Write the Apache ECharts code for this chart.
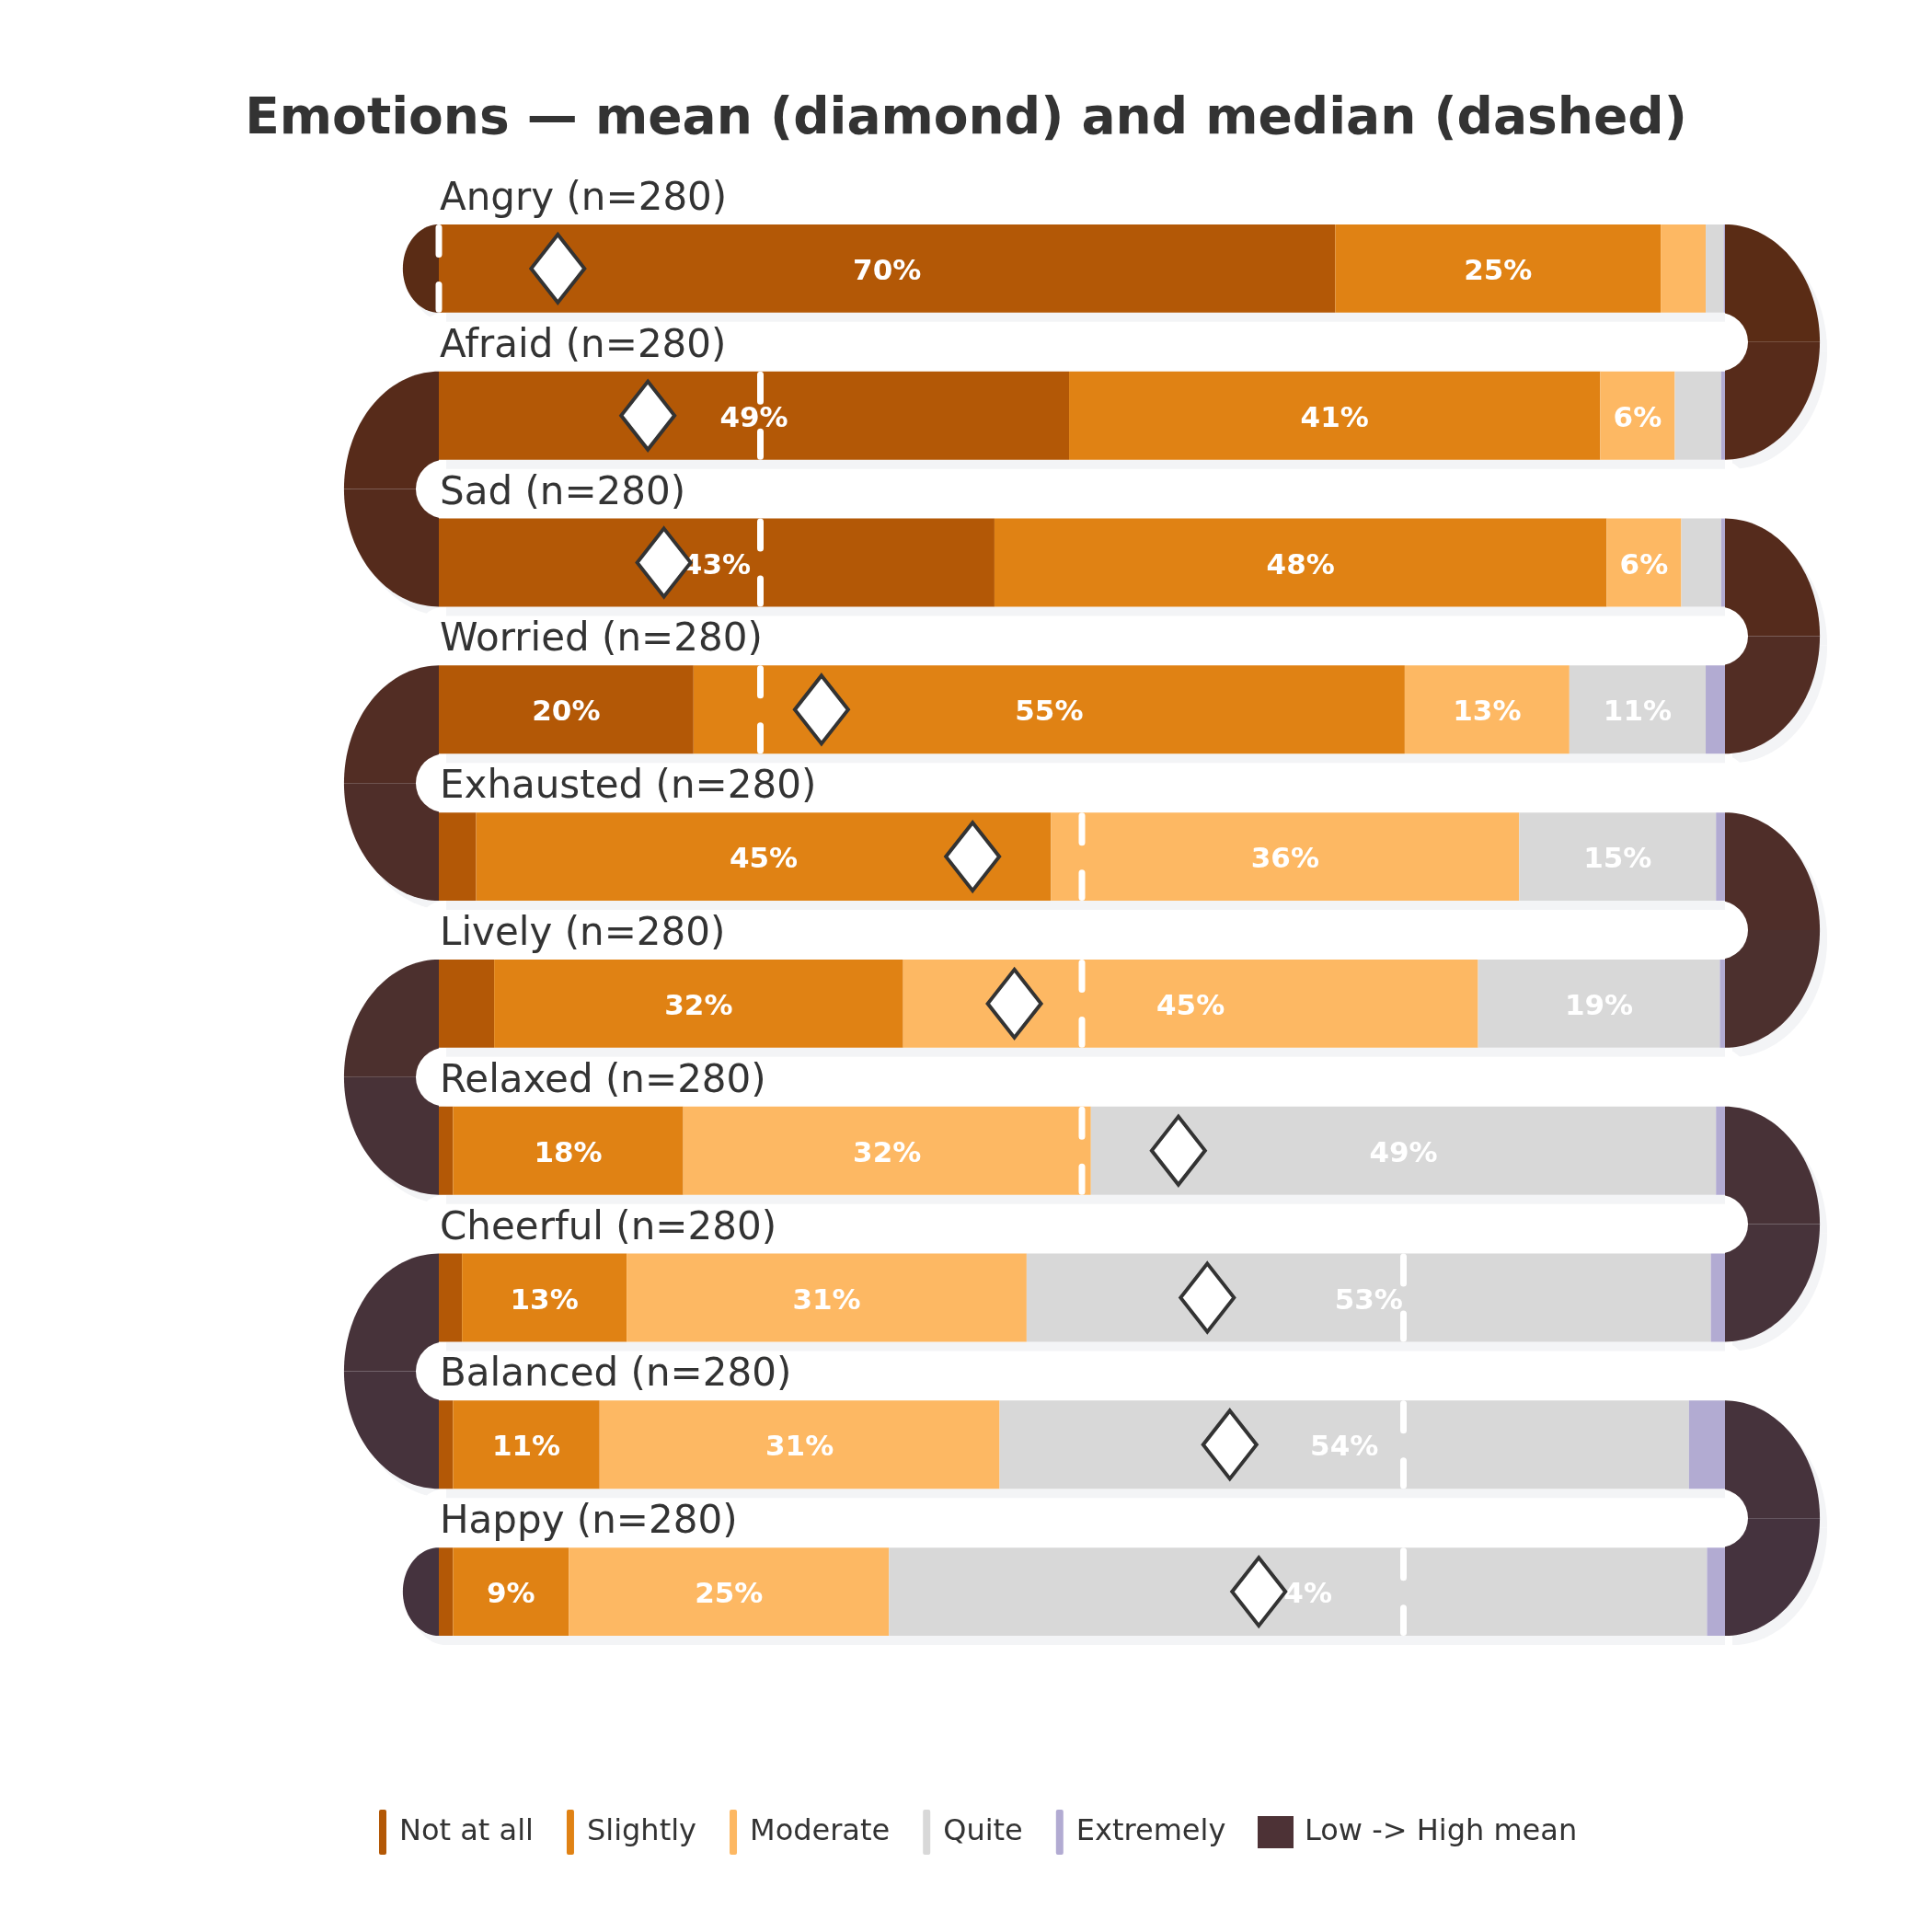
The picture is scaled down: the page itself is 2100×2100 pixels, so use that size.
<!DOCTYPE html>
<html>
<head>
<meta charset="utf-8">
<title>Emotions</title>
<script src="https://cdn.jsdelivr.net/npm/echarts@6.0.0/dist/echarts.min.js"></script>
<style>
    html, body { margin: 0; padding: 0; background: #fff; }
    #chart { width: 2100px; height: 2100px; }
</style>
</head>
<body>
<div id="chart"></div>
<script>
const chart = echarts.init(document.getElementById('chart'));

// rows, top to bottom
const rows = ['Angry', 'Afraid', 'Sad', 'Worried', 'Exhausted', 'Lively', 'Relaxed', 'Cheerful', 'Balanced', 'Happy'];
const counts = [280, 280, 280, 280, 280, 280, 280, 280, 280, 280];

// share of answers per level (%)
const notAtAll = [69.7, 49.0, 43.2, 19.8, 2.9, 4.3, 1.1, 1.8, 1.1, 1.1];
const slightly = [25.3, 41.3, 47.6, 55.3, 44.7, 31.8, 17.9, 12.8, 11.4, 9.0];
const moderate = [3.5, 5.8, 5.8, 12.8, 36.4, 44.7, 31.7, 31.1, 31.1, 24.9];
const quite = [1.4, 3.6, 3.1, 10.6, 15.3, 18.8, 48.6, 53.2, 53.6, 63.6];
const extremely = [0.1, 0.3, 0.3, 1.5, 0.7, 0.4, 0.7, 1.1, 2.8, 1.4];

// mean and median on the 1..5 scale
const means = [1.37, 1.65, 1.70, 2.19, 2.66, 2.79, 3.30, 3.39, 3.46, 3.55];
const medians = [1, 2, 2, 2, 3, 3, 3, 4, 4, 4];

const levels = ['Not at all', 'Slightly', 'Moderate', 'Quite', 'Extremely'];
const levelData = [notAtAll, slightly, moderate, quite, extremely];
const levelColors = ['#b35806', '#e08214', '#fdb863', '#d8d8d8', '#b2abd2'];

// connector colour per row (low -> high mean)
const arcColors = ['#5a2c15', '#572b1a', '#552b1c', '#522d24', '#4f2e29', '#4c302e', '#483237', '#47333a', '#46333c', '#45333e'];

const FONT = '"DejaVu Sans", sans-serif';
const BAR_FRAC = 0.6;
const SHADOW = '#f3f4f6';

function ellipsePts(cx, cy, rx, ry, a0, a1) {
    var pts = [];
    var steps = 40;
    for (var k = 0; k <= steps; k++) {
        var a = (a0 + (a1 - a0) * k / steps) * Math.PI / 180;
        pts.push([cx + rx * Math.cos(a), cy + ry * Math.sin(a)]);
    }
    pts.push([cx, cy]);
    return pts;
}

function rowGeom(api, i) {
    var l = api.coord([0, i]), r = api.coord([100, i]);
    var band = api.size([0, 1])[1];
    var barH = band * BAR_FRAC;
    return {
        left: l[0], right: r[0], yc: l[1], band: band, barH: barH,
        top: l[1] - barH / 2, bottom: l[1] + barH / 2
    };
}

// serpentine connectors between the rows
function arcPieces(api, i, dx, dy, fill) {
    var g = rowGeom(api, i);
    var n = rows.length;
    var rx = g.band * 0.645, ry = (g.band + g.barH) / 2;
    var capRx = g.band * 0.245, capRy = g.barH / 2;
    var polys = [];
    // right side
    if (i % 2 === 0) {
        if (i + 1 < n) polys.push(ellipsePts(g.right, g.yc + g.band / 2, rx, ry, -90, 0));
        else polys.push(ellipsePts(g.right, g.yc, capRx, capRy, -90, 90));
    } else {
        polys.push(ellipsePts(g.right, g.yc - g.band / 2, rx, ry, 0, 90));
    }
    // left side
    if (i % 2 === 1) {
        if (i + 1 < n) polys.push(ellipsePts(g.left, g.yc + g.band / 2, rx, ry, 180, 270));
        else polys.push(ellipsePts(g.left, g.yc, capRx, capRy, 90, 270));
    } else {
        if (i > 0) polys.push(ellipsePts(g.left, g.yc - g.band / 2, rx, ry, 90, 180));
        else polys.push(ellipsePts(g.left, g.yc, capRx, capRy, 90, 270));
    }
    return {
        type: 'group',
        children: polys.map(function (p) {
            return {
                type: 'polygon',
                shape: { points: p.map(function (q) { return [q[0] + dx, q[1] + dy]; }) },
                style: { fill: fill }
            };
        })
    };
}

var rowData = rows.map(function (d, i) { return [50, i]; });

var series = [];

series.push({
    name: 'arc shadow',
    type: 'custom',
    z: 0,
    silent: true,
    data: rowData,
    renderItem: function (params, api) {
        return arcPieces(api, api.value(1), 8, 10, SHADOW);
    }
});

series.push({
    name: 'Low -> High mean',
    type: 'custom',
    z: 1,
    silent: true,
    itemStyle: { color: '#4d3236' },
    data: rowData,
    renderItem: function (params, api) {
        var i = api.value(1);
        return arcPieces(api, i, 0, 0, arcColors[i]);
    }
});

// white gaps, bar shadows, row titles
series.push({
    name: 'gaps',
    type: 'custom',
    z: 2,
    silent: true,
    data: rowData,
    renderItem: function (params, api) {
        var i = api.value(1);
        var g = rowGeom(api, i);
        var kids = [];
        var gapH = g.band - g.barH;
        if (i + 1 < rows.length) {
            kids.push({
                type: 'rect',
                shape: { x: g.left - 25, y: g.bottom, width: g.right - g.left + 50, height: gapH, r: gapH / 2 },
                style: { fill: '#fff' }
            });
        }
        kids.push({
            type: 'rect',
            shape: { x: g.left + 8, y: g.bottom, width: g.right - g.left - 8, height: 10 },
            style: { fill: SHADOW }
        });
        kids.push({
            type: 'text',
            style: {
                text: rows[i] + ' (n=' + counts[i] + ')',
                x: g.left + 1,
                y: g.yc - g.band / 2 + 5,
                fill: '#333',
                font: 'normal 42px ' + FONT,
                align: 'left',
                verticalAlign: 'middle',
                textAlign: 'left',
                textVerticalAlign: 'middle'
            }
        });
        return { type: 'group', children: kids };
    }
});

// stacked bars
levels.forEach(function (name, k) {
    series.push({
        name: name,
        type: 'bar',
        stack: 'all',
        z: 3,
        barWidth: (BAR_FRAC * 100) + '%',
        itemStyle: { color: levelColors[k] },
        label: {
            show: true,
            position: 'inside',
            offset: [0, 4],
            color: '#fff',
            fontSize: 31,
            fontWeight: 'bold',
            fontFamily: FONT,
            formatter: function (p) {
                return p.value >= 5 ? Math.round(p.value) + '%' : '';
            }
        },
        emphasis: { disabled: true },
        data: levelData[k]
    });
});

// median, dashed white
series.push({
    name: 'Median',
    type: 'custom',
    xAxisIndex: 1,
    z: 5,
    silent: true,
    data: medians.map(function (m, i) { return [m, i]; }),
    renderItem: function (params, api) {
        var p = api.coord([api.value(0), api.value(1)]);
        var barH = api.size([0, 1])[1] * BAR_FRAC;
        return {
            type: 'line',
            shape: { x1: p[0], y1: p[1] - barH / 2 + 3.5, x2: p[0], y2: p[1] + barH / 2 - 3.5 },
            style: { stroke: '#fff', lineWidth: 7, lineDash: [29, 33], lineCap: 'round' }
        };
    }
});

// mean, diamond
series.push({
    name: 'Mean',
    type: 'scatter',
    xAxisIndex: 1,
    z: 6,
    symbol: 'diamond',
    symbolSize: [58, 74],
    itemStyle: { color: '#fff', borderColor: '#333', borderWidth: 4, opacity: 1 },
    emphasis: { disabled: true },
    data: means.map(function (m, i) { return [m, i]; })
});

var option = {
    animation: false,
    backgroundColor: '#fff',
    textStyle: { fontFamily: FONT },
    title: {
        text: 'Emotions \u2014 mean (diamond) and median (dashed)',
        left: 'center',
        top: 98,
        textStyle: { fontSize: 55, fontWeight: 'bold', color: '#333', fontFamily: FONT }
    },
    legend: [{
        data: levels,
        left: 412,
        top: 1967,
        padding: 0,
        itemGap: 36,
        itemWidth: 8,
        itemHeight: 49,
        icon: 'roundRect',
        selectedMode: false,
        textStyle: { fontSize: 32, color: '#333', fontFamily: FONT, padding: [0, 0, 0, 9] }
    }, {
        data: ['Low -> High mean'],
        left: 1367,
        top: 1974,
        padding: 0,
        itemWidth: 39,
        itemHeight: 35,
        icon: 'rect',
        selectedMode: false,
        textStyle: { fontSize: 32, color: '#333', fontFamily: FONT, padding: [0, 0, 0, 7] }
    }],
    grid: { left: 477, top: 212, width: 1398, height: 1598 },
    xAxis: [{
        type: 'value', min: 0, max: 100, show: false
    }, {
        type: 'value', min: 1, max: 5, show: false
    }],
    yAxis: {
        type: 'category',
        data: rows,
        inverse: true,
        show: false
    },
    series: series
};

chart.setOption(option);
</script>
</body>
</html>
